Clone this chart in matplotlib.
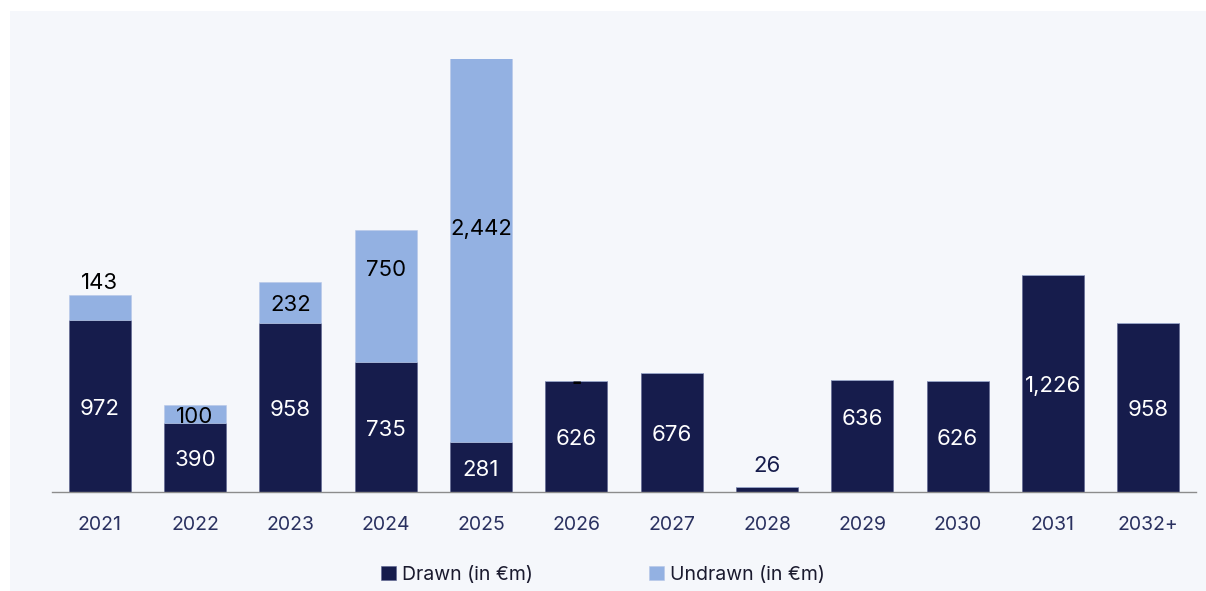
import numpy as np
import matplotlib.pyplot as plt
from matplotlib.patches import Rectangle

plt.rcParams['font.family'] = ['Inter', 'DejaVu Sans']

years = ['2021', '2022', '2023', '2024', '2025', '2026', '2027', '2028',
         '2029', '2030', '2031', '2032+']
drawn = [972, 390, 958, 735, 281, 626, 676, 26, 636, 626, 1226, 958]
undrawn = [143, 100, 232, 750, 2442, 0, 0, 0, 0, 0, 0, 0]
drawn_labels = ['972', '390', '958', '735', '281', '626', '676', '26',
                '636', '626', '1,226', '958']
undrawn_labels = ['143', '100', '232', '750', '2,442', '-', '', '', '', '', '', '']

navy = '#161c4c'
light = '#93b1e2'
bg = '#f5f7fb'

W, H = 1206, 591
fig = plt.figure(figsize=(W / 100, H / 100), dpi=100)
fig.patch.set_facecolor('white')
fig.patches.append(Rectangle((10 / W, 0), 1 - 10 / W, 1 - 11 / H,
                             transform=fig.transFigure, facecolor=bg,
                             edgecolor='none', zorder=-5))

ax = fig.add_axes([52 / W, 1 - 492 / H, (1196 - 52) / W, (492 - 59) / H])
ax.set_facecolor('none')
ax.set_zorder(2)

x = np.arange(len(years))
w = 0.65
ax.bar(x, drawn, w, color=navy, edgecolor='#5a6390', linewidth=0.4, label='Drawn (in €m)')
ax.bar(x, undrawn, w, bottom=drawn, color=light, edgecolor='#b8c8e8', linewidth=0.4,
       label='Undrawn (in €m)')

ax.set_xlim(-0.5, len(years) - 0.5)
ax.set_ylim(0, 2450)
ax.set_yticks([])
for s in ['top', 'left', 'right']:
    ax.spines[s].set_visible(False)
ax.spines['bottom'].set_color('#8c8c8c')
ax.spines['bottom'].set_linewidth(1.0)
ax.set_xticks(x)
ax.set_xticklabels(years)
ax.tick_params(axis='x', length=0, pad=17, labelsize=14, labelcolor='#2a3160')


def label(xv, yv, txt, color, dy=-2, va='center', **kw):
    ax.annotate(txt, (xv, yv), xytext=(0, dy), textcoords='offset points',
                ha='center', va=va, fontsize=16, color=color, **kw)


# drawn labels (fraction of segment height for anchor)
d_frac = {8: 0.67}
for i, (v, lab) in enumerate(zip(drawn, drawn_labels)):
    if i == 7:
        label(x[i], v, lab, navy, dy=8.5, va='bottom')
        continue
    label(x[i], v * d_frac.get(i, 0.5), lab, 'white')

u_frac = {3: 0.715}
for i, (v, lab) in enumerate(zip(undrawn, undrawn_labels)):
    if not lab:
        continue
    base = drawn[i]
    if i == 0:
        label(x[i], base + v, lab, 'black', dy=1.5, va='bottom')
    elif lab == '-':
        label(x[i], base, lab, 'black', dy=-1, fontweight='bold')
    else:
        label(x[i], base + v * u_frac.get(i, 0.5), lab, 'black')

fig.legend(loc='center', bbox_to_anchor=(0.5, 1 - 575 / H), ncol=2, frameon=False,
           fontsize=14, handlelength=0.75, handleheight=0.75, handletextpad=0.3,
           columnspacing=6.0, labelcolor='#1a1a2e')

fig.savefig('out.png', dpi=100, facecolor=fig.get_facecolor())
